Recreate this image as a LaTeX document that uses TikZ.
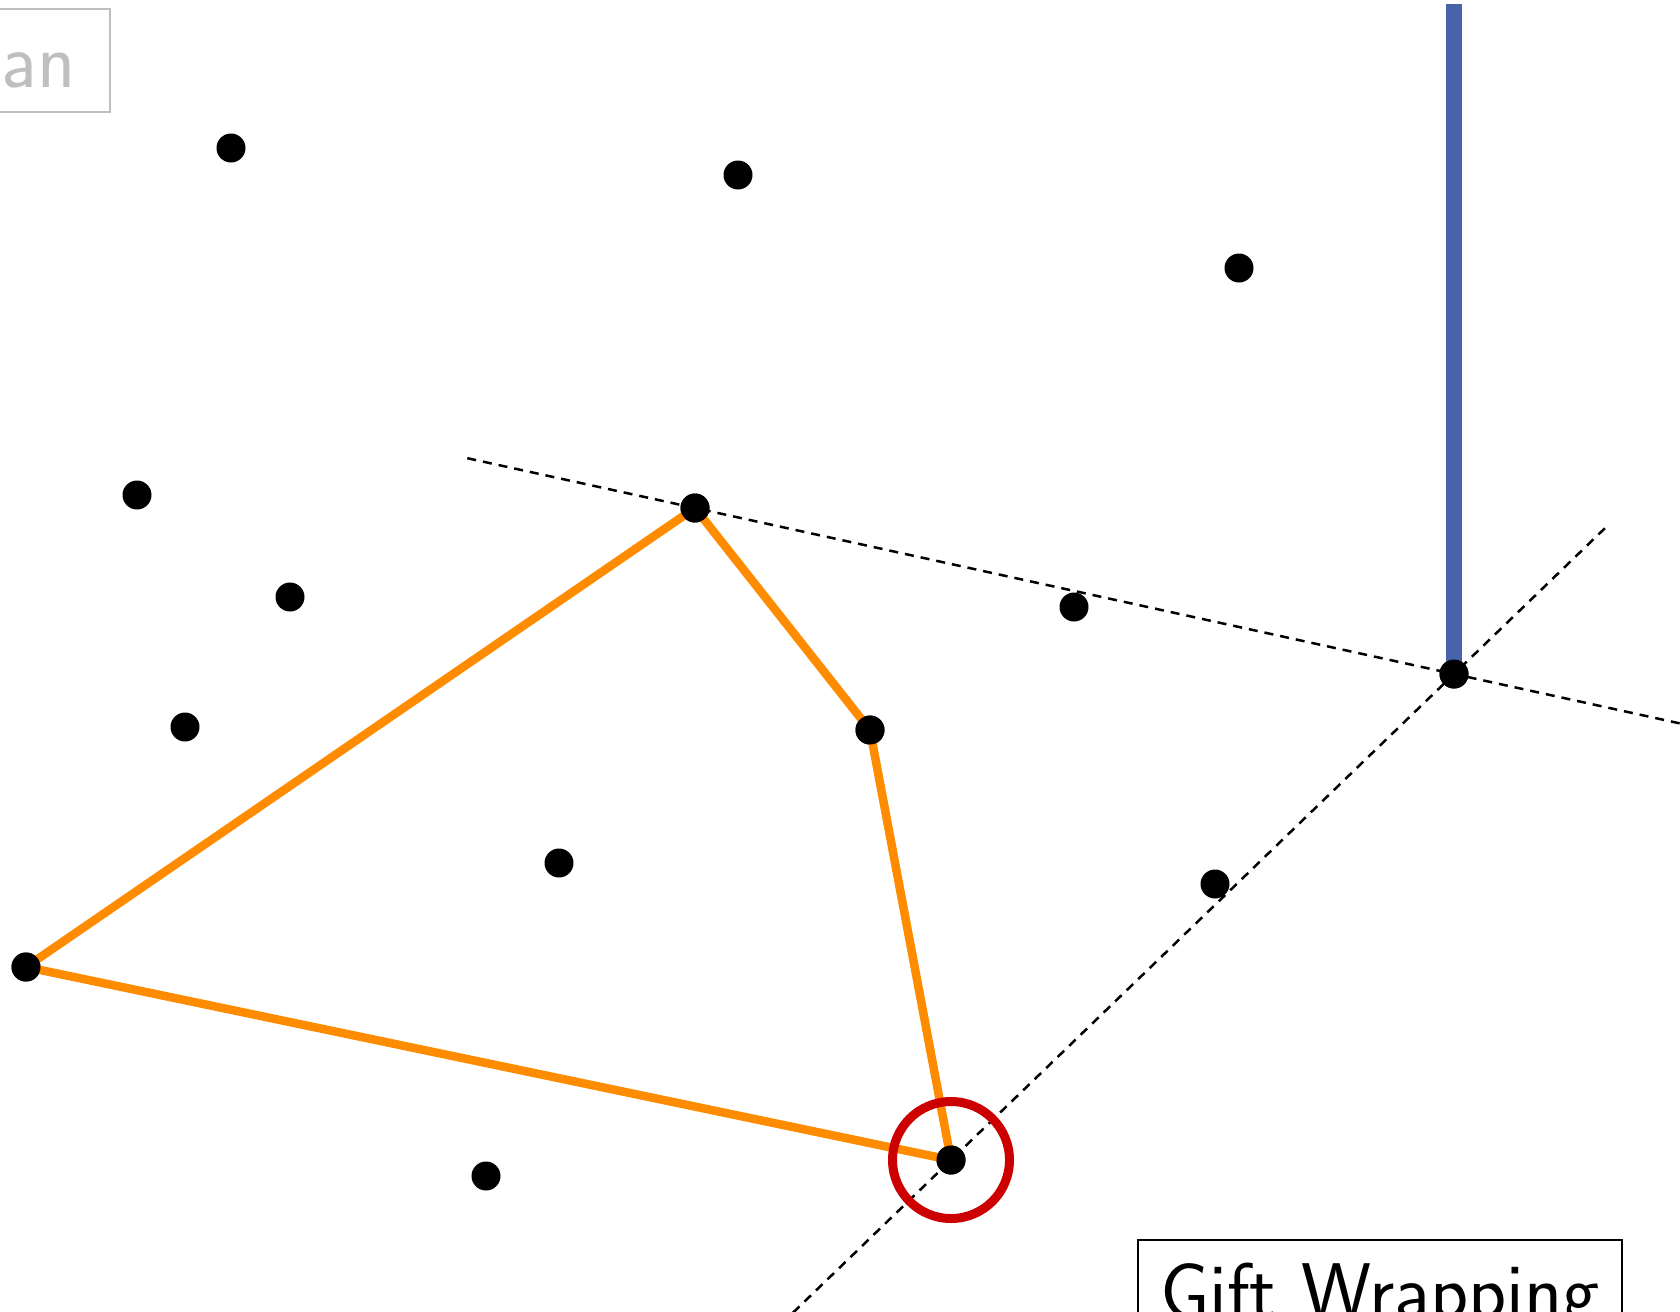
\documentclass[tikz,border=0pt]{standalone}
\usetikzlibrary{calc}
\definecolor{hullorange}{RGB}{255,140,0}
\definecolor{markred}{RGB}{204,0,0}
\definecolor{rayblue}{RGB}{72,99,170}
\definecolor{labelgray}{RGB}{191,191,191}

\begin{document}
\begin{tikzpicture}[x=1pt, y=-1pt,
  pt/.style={circle, fill=black, inner sep=0pt, minimum size=29pt},
  hull/.style={line width=8.5pt, hullorange, line join=round},
  probe/.style={line width=2.5pt, dash pattern=on 9pt off 7pt},
  tag/.style={font=\sffamily\fontsize{79}{86}\selectfont, anchor=base, text depth=0pt}]
  \useasboundingbox (0,0) rectangle (1680,1311);
  \clip (0,0) rectangle (1680,1311);

  % ----- Point set -----
  \node[pt] (p1) at (231,148) {};
  \node[pt] (p2) at (738,175) {};
  \node[pt] (p3) at (1239,268) {};
  \node[pt] (p4) at (137,495) {};
  \node[pt] (p5) at (290,597) {};
  \node[pt] (p6) at (695,508) {};
  \node[pt] (p7) at (1074,607) {};
  \node[pt] (p8) at (1454,674) {};
  \node[pt] (p9) at (185,727) {};
  \node[pt] (p10) at (870,730) {};
  \node[pt] (p11) at (559,863) {};
  \node[pt] (p12) at (1215,884) {};
  \node[pt] (p13) at (26,967) {};
  \node[pt] (p14) at (951,1160) {};
  \node[pt] (p15) at (486,1176) {};

  % Candidate rays (dashed)
  \draw[probe] ($(p6.center)!-0.3!(p8.center)$) -- ($(p6.center)!1.35!(p8.center)$);
  \draw[probe] ($(p8.center)!-0.3!(p14.center)$) -- ($(p8.center)!1.32!(p14.center)$);

  % Hull built so far
  \draw[hull] (p13.center) -- (p6.center) -- (p10.center) -- (p14.center) -- cycle;

  % Vertical reference ray
  \coordinate (raytop) at (1454,4);
  \draw[rayblue, line width=16pt] (raytop) -- (p8.center);

  % Current point
  \node[draw=markred, line width=9pt, circle, inner sep=0pt, minimum size=117pt] (cur) at (p14) {};

  % redraw dots on top
  \foreach \i in {6,8,10,13,14}
    \fill (p\i) circle (14.5);

  % ----- Labels -----
  \node[tag, anchor=base east, draw=labelgray, text=labelgray, line width=2.5pt,
        text height=55pt, inner ysep=24pt, inner xsep=34pt] (prev) at (111,88) {an};
  \node[tag, draw, line width=2pt, text height=56pt, inner ysep=22pt,
        minimum width=484pt] (algo) at (1380,1318) {Gift Wrapping};
\end{tikzpicture}
\end{document}
